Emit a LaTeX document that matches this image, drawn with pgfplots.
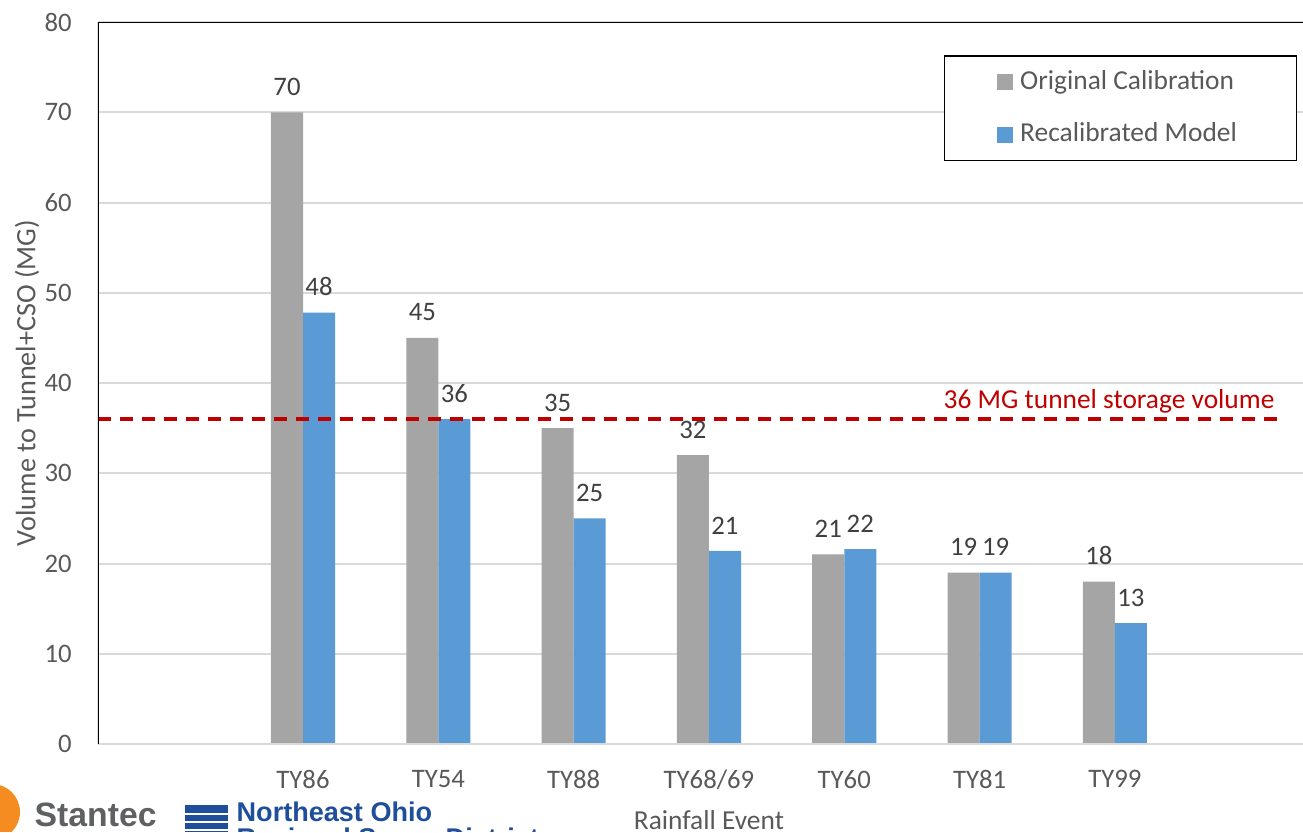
\documentclass[border=0pt]{standalone}
\usepackage{pgfplots}
\pgfplotsset{compat=1.18}
\usepackage{fontspec}
\setmainfont{Carlito}
\newfontfamily\logofont{Liberation Sans}
\definecolor{origgray}{HTML}{A5A5A5}
\definecolor{recblue}{HTML}{5B9BD5}
\definecolor{txt}{HTML}{595959}
\definecolor{lbl}{HTML}{404040}
\definecolor{gridc}{HTML}{D9D9D9}
\definecolor{tunnelred}{HTML}{C00000}
\definecolor{stantecgray}{HTML}{5F6062}
\definecolor{neoblue}{HTML}{1F4E9A}
\definecolor{stanorange}{HTML}{F48C22}

\pgfplotstableread{
x y l
0 70 70
1 45 45
2 35 35
3 32 32
4 21 21
5 19 19
6 18 18
}\origtab
\pgfplotstableread{
x y l
0 47.8 48
1 36 36
2 25 25
3 21.4 21
4 21.6 22
5 19 19
6 13.4 13
}\rectab

\begin{document}
\begin{tikzpicture}
\path[use as bounding box, clip] (0,0) rectangle (130.3mm,83.2mm);
\begin{axis}[
  at={(9.8mm,8.8mm)}, anchor=south west,
  width=120.5mm, height=72.2mm, scale only axis,
  xmin=-1.515, xmax=7.39, ymin=0, ymax=80,
  ytick={0,10,...,80},
  xtick={0,...,6},
  xticklabels={TY86,TY54,TY88,TY68/69,TY60,TY81,TY99},
  ymajorgrids, grid style={gridc, line width=0.2mm},
  axis line style={draw=none},
  major tick length=0pt,
  tick label style={font=\fontsize{7.6}{9}\selectfont, text=txt},
  yticklabel style={xshift=-1.4mm},
  xticklabel style={yshift=-1.4mm},
  /pgf/number format/assume math mode=true,
  every axis y label/.style={at={(axis description cs:-0.0589,0.5)}, rotate=90, anchor=center, font=\fontsize{8}{9}\selectfont, text=txt},
  every axis x label/.style={at={(axis description cs:0.507,-0.105)}, anchor=center, font=\fontsize{7.8}{9}\selectfont, text=txt},
  ylabel={Volume to Tunnel+CSO (MG)},
  xlabel={Rainfall Event},
  legend style={at={(0.702,0.954)}, anchor=north west, draw=black, line width=0.15mm,
    font=\fontsize{7.8}{9}\selectfont, text=txt, inner xsep=5.25mm, inner ysep=0.7mm, row sep=1.4mm},
  legend cell align=left,
  legend image code/.code={\fill[#1] (0mm,-0.8mm) rectangle (1.6mm,0.8mm);},
]
\addplot[ybar, bar width=0.237, bar shift=-0.1185, fill=origgray, draw=none,
  nodes near coords, point meta=explicit symbolic,
  nodes near coords style={font=\fontsize{7.6}{9}\selectfont, text=lbl, anchor=south, inner sep=0pt, yshift=1.6mm, xshift=-1.6mm}]
  table[x=x, y=y, meta=l] {\origtab};
\addlegendentry{Original Calibration}
\addplot[ybar, bar width=0.237, bar shift=0.1185, fill=recblue, draw=none,
  nodes near coords, point meta=explicit symbolic,
  nodes near coords style={font=\fontsize{7.6}{9}\selectfont, text=lbl, anchor=south, inner sep=0pt, yshift=1.6mm, xshift=1.6mm}]
  table[x=x, y=y, meta=l] {\rectab};
\addlegendentry{Recalibrated Model}
\addplot[tunnelred, line width=0.4mm, dash pattern=on 1.3mm off 0.9mm, forget plot] coordinates {(-1.515,36) (7.22,36)};
\node[anchor=base east, text=tunnelred, font=\fontsize{7.8}{9}\selectfont, inner sep=0pt] at (axis cs:7.184,36) [yshift=1.1mm] {36 MG tunnel storage volume};
\draw[gridc, line width=0.2mm] (rel axis cs:0,0) -- (rel axis cs:1,0);
\draw[black, line width=0.15mm] (rel axis cs:0,0) -- (rel axis cs:0,1) -- (rel axis cs:1,1);
\end{axis}
% logos (partially cut off at the bottom edge, as in the reference)
\fill[stanorange] (-0.8mm,2.0mm) circle (2.8mm);
\fill[white] (-1.8mm,1.4mm) circle (1.5mm);
\node[anchor=base west, inner sep=0pt, text=stantecgray, font=\logofont\bfseries\fontsize{9.6}{11}\selectfont] at (3.4mm,0.5mm) {Stantec};
\fill[neoblue] (18.5mm,-1mm) rectangle (22.8mm,2.7mm);
\foreach \yy in {0.2,1.0,1.8} {\draw[white, line width=0.25mm] (18.5mm,\yy mm) -- (22.8mm,\yy mm);}
\node[anchor=base west, inner sep=0pt, text=neoblue, font=\logofont\bfseries\fontsize{7.7}{9}\selectfont] at (23.6mm,1.0mm) {Northeast Ohio};
\node[anchor=base west, inner sep=0pt, text=neoblue, font=\logofont\bfseries\fontsize{7.7}{9}\selectfont] at (23.6mm,-1.6mm) {Regional Sewer District};
\end{tikzpicture}
\end{document}
